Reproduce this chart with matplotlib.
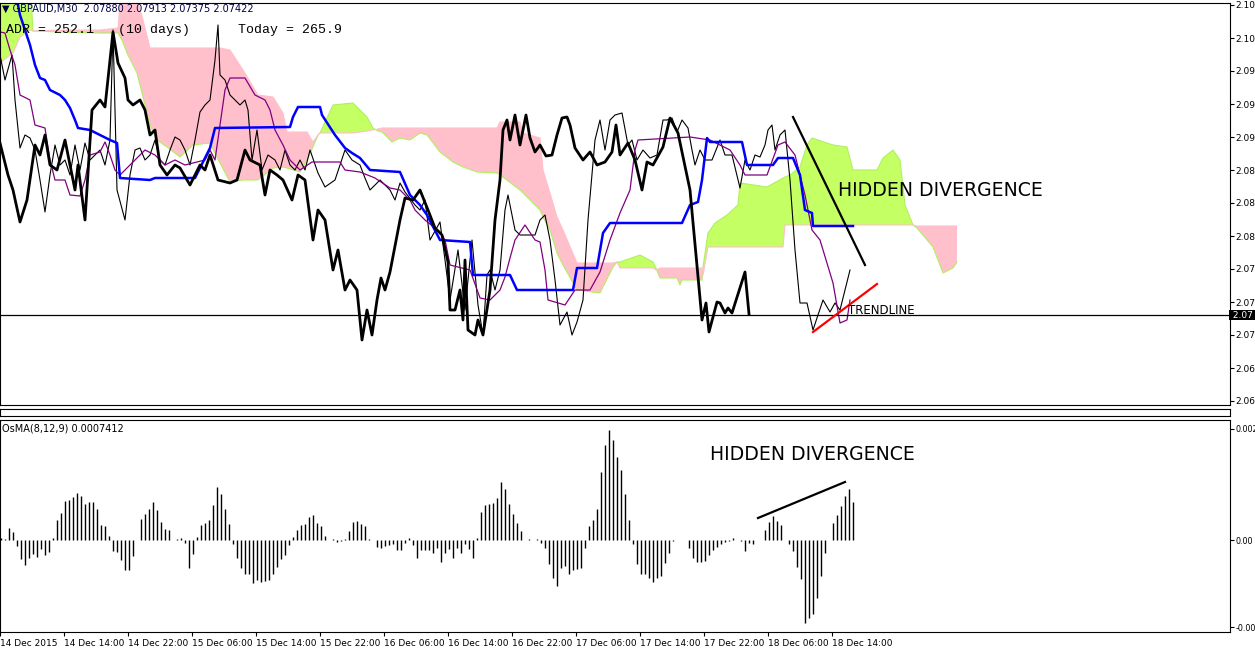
import numpy as np
import matplotlib
matplotlib.use("Agg")
import matplotlib.pyplot as plt

# ---------------- data ----------------
# time axis: bar index (M30 bars since 14 Dec 2015 00:00)
xtick_bars = [0, 16, 32, 48, 64, 80, 96, 112, 128, 144, 160, 176, 192, 208]
xtick_labels = ["14 Dec 2015", "14 Dec 14:00", "14 Dec 22:00", "15 Dec 06:00", "15 Dec 14:00",
                "15 Dec 22:00", "16 Dec 06:00", "16 Dec 14:00", "16 Dec 22:00", "17 Dec 06:00",
                "17 Dec 14:00", "17 Dec 22:00", "18 Dec 06:00", "18 Dec 14:00"]
price_ticks = [2.0996, 2.0963, 2.0930, 2.0897, 2.0864, 2.0831, 2.0798, 2.0765, 2.0732,
               2.0699, 2.0666, 2.0633, 2.0600]
price_tick_labels = ["2.10", "2.10", "2.09", "2.09", "2.09", "2.08", "2.08", "2.08", "2.07",
                     "2.07", "2.07", "2.06", "2.06"]
current_price = 2.0686

close_x = [0, 8, 13, 20, 27, 35, 40, 45, 50, 57, 65, 75, 78, 85, 92, 100, 105, 113, 118, 125, 128, 133,
           140, 145, 150, 155, 160, 167, 175, 180, 190, 200, 205, 210, 218, 230, 237, 245, 250, 260, 265,
           270, 277, 283, 292, 298, 305, 313, 318, 325, 333, 338, 345, 350, 357, 362, 367, 372, 377, 381,
           385, 390, 400, 405, 413, 420, 428, 435, 442, 448, 450, 455, 460, 463, 465, 468, 475, 478, 483,
           490, 495, 500, 503, 507, 510, 515, 520, 526, 530, 535, 540, 546, 552, 557, 562, 567, 570, 575,
           583, 590, 597, 605, 612, 616, 620, 628, 635, 642, 647, 653, 663, 670, 678, 690, 702, 706, 709,
           717, 720, 725, 728, 732, 745, 749]
close_y = [2.0858, 2.0826, 2.0811, 2.0779, 2.0801, 2.0856, 2.0846, 2.0866, 2.0836, 2.0831, 2.0861, 2.0811,
           2.0836, 2.0781, 2.0891, 2.0901, 2.0894, 2.0969, 2.0938, 2.0923, 2.0901, 2.0896, 2.0901, 2.0891,
           2.0866, 2.0871, 2.0836, 2.0826, 2.0836, 2.0833, 2.0816, 2.0836, 2.0831, 2.0846, 2.0821, 2.0818,
           2.0821, 2.0851, 2.0841, 2.0836, 2.0806, 2.0831, 2.0826, 2.0821, 2.0801, 2.0826, 2.0821, 2.0761,
           2.0791, 2.0781, 2.0731, 2.0751, 2.0711, 2.0721, 2.0711, 2.0661, 2.0691, 2.0666, 2.0701, 2.0723,
           2.0711, 2.0729, 2.0781, 2.0803, 2.0801, 2.0811, 2.0791, 2.0773, 2.0766, 2.0739, 2.0691, 2.0691,
           2.0711, 2.0681, 2.0741, 2.0671, 2.0666, 2.0681, 2.0666, 2.0711, 2.0781, 2.0821, 2.0871, 2.0881,
           2.0861, 2.0886, 2.0856, 2.0886, 2.0863, 2.0849, 2.0856, 2.0845, 2.0846, 2.0866, 2.0883, 2.0884,
           2.0876, 2.0853, 2.0841, 2.0849, 2.0836, 2.0839, 2.0849, 2.0876, 2.0846, 2.0858, 2.0841, 2.0811,
           2.0839, 2.0836, 2.0854, 2.0883, 2.0868, 2.0811, 2.0681, 2.0698, 2.0669, 2.0699, 2.0698, 2.0688,
           2.0693, 2.0688, 2.0729, 2.0687]

lag_x = [0, 5, 12, 15, 20, 25, 30, 35, 40, 45, 50, 55, 60, 65, 70, 75, 80, 85, 90, 100, 105, 110, 113, 117,
         125, 130, 135, 140, 145, 150, 155, 160, 165, 170, 175, 180, 185, 190, 195, 200, 205, 210, 215, 218,
         220, 225, 230, 235, 240, 245, 248, 252, 257, 262, 268, 275, 280, 285, 290, 295, 300, 305, 310, 318,
         325, 335, 345, 352, 360, 365, 370, 380, 390, 395, 400, 405, 415, 420, 425, 430, 440, 445, 450, 458,
         465, 472, 478, 483, 487, 490, 495, 500, 505, 508, 515, 520, 535, 540, 545, 550, 555, 560, 567, 572,
         577, 583, 588, 595, 600, 605, 610, 615, 622, 628, 632, 637, 643, 650, 657, 663, 667, 672, 677, 682,
         688, 692, 695, 700, 705, 712, 716, 720, 725, 732, 740, 745, 750, 755, 760, 765, 768, 772, 775, 780,
         785, 790, 795, 800, 807, 813, 823, 830, 835, 840, 850]
lag_y = [2.0946, 2.0921, 2.0946, 2.0901, 2.0853, 2.0866, 2.0863, 2.0851, 2.0821, 2.0789, 2.0826, 2.0856,
         2.0836, 2.0841, 2.0826, 2.0856, 2.0831, 2.0858, 2.0841, 2.0851, 2.0836, 2.0861, 2.0971, 2.0811,
         2.0781, 2.0826, 2.0851, 2.0853, 2.0841, 2.0846, 2.0861, 2.0841, 2.0836, 2.0851, 2.0864, 2.0861,
         2.0851, 2.0836, 2.0861, 2.0889, 2.0896, 2.0901, 2.0941, 2.0976, 2.0926, 2.0921, 2.0906, 2.0901,
         2.0896, 2.0901, 2.0891, 2.0841, 2.0871, 2.0831, 2.0846, 2.0841, 2.0831, 2.0851, 2.0836, 2.0831,
         2.0841, 2.0831, 2.0851, 2.0828, 2.0814, 2.0821, 2.0851, 2.0841, 2.0836, 2.0823, 2.0811, 2.0821,
         2.0811, 2.0801, 2.0818, 2.0809, 2.0796, 2.0791, 2.0801, 2.0761, 2.0779, 2.0741, 2.0701, 2.0751,
         2.0691, 2.0761, 2.0696, 2.0666, 2.0726, 2.0731, 2.0711, 2.0731, 2.0791, 2.0806, 2.0771, 2.0766,
         2.0766, 2.0781, 2.0786, 2.0761, 2.0721, 2.0676, 2.0689, 2.0666, 2.0679, 2.0701, 2.0781, 2.0861,
         2.0881, 2.0851, 2.0881, 2.0886, 2.0888, 2.0856, 2.0861, 2.0841, 2.0851, 2.0843, 2.0846, 2.0881,
         2.0881, 2.0883, 2.0869, 2.0881, 2.0873, 2.0851, 2.0836, 2.0851, 2.0841, 2.0841, 2.0851, 2.0861,
         2.0846, 2.0846, 2.0813, 2.0841, 2.0831, 2.0846, 2.0844, 2.0856, 2.0871, 2.0876, 2.0851, 2.0866,
         2.0871, 2.0821, 2.0751, 2.0698, 2.0698, 2.0671, 2.0701, 2.0689, 2.0698, 2.0691, 2.0731]

tenkan_x = [0, 5, 10, 15, 20, 30, 35, 45, 50, 55, 65, 70, 80, 85, 90, 100, 105, 110, 115, 120, 130, 145,
            155, 165, 175, 185, 205, 210, 215, 220, 225, 230, 245, 255, 265, 270, 275, 283, 290, 300, 312,
            340, 345, 360, 375, 390, 400, 410, 415, 425, 440, 445, 450, 470, 480, 490, 500, 505, 510, 515,
            525, 535, 540, 545, 548, 565, 575, 590, 600, 610, 620, 630, 635, 638, 690, 710, 720, 730, 740,
            745, 767, 778, 785, 795, 805, 812, 820, 833, 840, 847, 850]
tenkan_y = [2.0969, 2.0968, 2.0951, 2.0936, 2.0906, 2.0901, 2.0876, 2.0873, 2.0841, 2.0821, 2.0821, 2.0806,
            2.0805, 2.0821, 2.0846, 2.0849, 2.0859, 2.0846, 2.0831, 2.0826, 2.0836, 2.0851, 2.0846, 2.0836,
            2.0841, 2.0836, 2.0841, 2.0851, 2.0841, 2.0876, 2.0911, 2.0923, 2.0923, 2.0906, 2.0901, 2.0891,
            2.0871, 2.0856, 2.0841, 2.0831, 2.0839, 2.0839, 2.0831, 2.0829, 2.0823, 2.0813, 2.0811, 2.0801,
            2.0791, 2.0781, 2.0769, 2.0761, 2.0736, 2.0731, 2.0703, 2.0701, 2.0711, 2.0724, 2.0743, 2.0761,
            2.0776, 2.0761, 2.0759, 2.0731, 2.0701, 2.0696, 2.0711, 2.0711, 2.0729, 2.0761, 2.0788, 2.0811,
            2.0851, 2.0861, 2.0864, 2.0861, 2.0856, 2.0851, 2.0836, 2.0826, 2.0826, 2.0856, 2.0859, 2.0846,
            2.0806, 2.0771, 2.0761, 2.0718, 2.0678, 2.0681, 2.0701]

kijun_x = [17, 20, 30, 35, 40, 45, 50, 60, 65, 70, 75, 78, 90, 100, 110, 117, 120, 150, 155, 195, 205, 210,
           215, 290, 293, 298, 320, 322, 335, 345, 352, 360, 370, 400, 410, 420, 427, 440, 470, 473, 510,
           517, 573, 577, 597, 603, 610, 682, 690, 698, 702, 707, 710, 742, 747, 773, 778, 793, 800, 805,
           812, 813, 853]
kijun_y = [2.1001, 2.0986, 2.0956, 2.0936, 2.0923, 2.0921, 2.0911, 2.0906, 2.0901, 2.0893, 2.0881, 2.0873,
           2.0871, 2.0866, 2.0861, 2.0858, 2.0823, 2.0821, 2.0823, 2.0823, 2.0843, 2.0853, 2.0873, 2.0874,
           2.0884, 2.0894, 2.0894, 2.0886, 2.0866, 2.0853, 2.0848, 2.0843, 2.0831, 2.0829, 2.0806, 2.0796,
           2.0786, 2.0761, 2.0759, 2.0726, 2.0726, 2.0711, 2.0711, 2.0733, 2.0733, 2.0768, 2.0778, 2.0778,
           2.0796, 2.0799, 2.0821, 2.0863, 2.0859, 2.0859, 2.0836, 2.0836, 2.0843, 2.0843, 2.0826, 2.0791,
           2.0788, 2.0775, 2.0775]

cloud_x = [0, 13, 20, 30, 33, 60, 100, 118, 122, 127, 137, 143, 150, 157, 167, 180, 193, 210, 220, 230, 243,
           258, 273, 283, 287, 300, 307, 313, 318, 320, 333, 353, 367, 373, 378, 382, 392, 400, 410, 420, 427,
           440, 453, 463, 477, 497, 500, 520, 523, 540, 543, 550, 557, 563, 577, 600, 613, 617, 620, 640, 653,
           656, 660, 677, 680, 682, 702, 703, 708, 715, 727, 738, 740, 767, 783, 785, 790, 800, 807, 812, 833,
           847, 853, 877, 883, 893, 900, 905, 913, 917, 933, 943, 953, 957]
span_a = [2.1021, 2.1021, 2.1021, 2.1021, 2.0970, 2.0969, 2.0968, 2.0968, 2.0961, 2.0948, 2.0928, 2.0904,
          2.0876, 2.0861, 2.0854, 2.0844, 2.0856, 2.0858, 2.0838, 2.0819, 2.0821, 2.0821, 2.0833, 2.0834,
          2.0833, 2.0829, 2.0841, 2.0854, 2.0866, 2.0868, 2.0896, 2.0898, 2.0884, 2.0873, 2.0870, 2.0869,
          2.0859, 2.0863, 2.0861, 2.0868, 2.0866, 2.0849, 2.0839, 2.0834, 2.0829, 2.0828, 2.0826, 2.0811,
          2.0808, 2.0791, 2.0784, 2.0771, 2.0748, 2.0736, 2.0711, 2.0708, 2.0734, 2.0739, 2.0739, 2.0746,
          2.0739, 2.0733, 2.0723, 2.0723, 2.0716, 2.0721, 2.0721, 2.0734, 2.0768, 2.0778, 2.0786, 2.0796,
          2.0818, 2.0814, 2.0823, 2.0824, 2.0826, 2.0834, 2.0856, 2.0863, 2.0856, 2.0854, 2.0831, 2.0831,
          2.0843, 2.0851, 2.0841, 2.0796, 2.0776, 2.0773, 2.0754, 2.0728, 2.0733, 2.0739]
span_b = [2.0938, 2.0948, 2.0964, 2.0971, 2.0970, 2.0971, 2.0971, 2.0973, 2.1021, 2.1021, 2.1001, 2.0981,
          2.0953, 2.0953, 2.0953, 2.0953, 2.0953, 2.0953, 2.0953, 2.0951, 2.0931, 2.0906, 2.0904, 2.0888,
          2.0869, 2.0869, 2.0869, 2.0859, 2.0866, 2.0868, 2.0868, 2.0868, 2.0870, 2.0871, 2.0872, 2.0873,
          2.0873, 2.0873, 2.0873, 2.0873, 2.0873, 2.0873, 2.0873, 2.0873, 2.0873, 2.0873, 2.0879, 2.0879,
          2.0868, 2.0863, 2.0831, 2.0808, 2.0784, 2.0771, 2.0738, 2.0738, 2.0738, 2.0739, 2.0733, 2.0733,
          2.0733, 2.0731, 2.0733, 2.0733, 2.0733, 2.0733, 2.0733, 2.0726, 2.0754, 2.0754, 2.0754, 2.0754,
          2.0754, 2.0754, 2.0754, 2.0776, 2.0776, 2.0776, 2.0776, 2.0776, 2.0776, 2.0776, 2.0776, 2.0776,
          2.0776, 2.0776, 2.0776, 2.0776, 2.0776, 2.0775, 2.0775, 2.0775, 2.0775, 2.0775]

# OsMA histogram, in millionths (one value per bar)
osma_micro = [30, 12, 222, 150, -108, -348, -450, -318, -258, -300, -168, -270, -216, 42, 354, 480, 702, 714,
              780, 840, 792, 642, 684, 684, 552, 270, 246, 72, -198, -216, -366, -540, -540, -288, 6, 372,
              462, 552, 678, 534, 330, 204, 174, 0, 12, 30, -48, -498, -246, 54, 270, 300, 354, 630, 954,
              822, 552, 282, -78, -318, -510, -618, -606, -768, -726, -750, -738, -726, -606, -480, -348,
              -270, -96, 54, 174, 270, 294, 414, 450, 300, 252, 72, 0, 12, -30, -18, 12, 162, 324, 342, 294,
              252, 12, 0, -126, -138, -108, -90, -66, -180, -180, -48, 30, -90, -318, -186, -186, -180,
              -228, -150, -390, -228, -168, -318, -138, -228, -78, -168, -318, 42, 510, 624, 642, 660, 750,
              1050, 912, 654, 462, 300, 162, 0, 12, -6, 12, -54, -150, -426, -690, -828, -498, -468, -606,
              -546, -528, -498, -150, 252, 354, 552, 1230, 1710, 1974, 1794, 1494, 1254, 834, 354, -78,
              -438, -606, -606, -678, -750, -678, -648, -408, -228, -18, -6, -6, 0, -138, -318, -396, -390,
              -378, -276, -186, -126, -78, -30, -18, 42, -6, -18, -198, -48, -66, 0, 0, 174, 330, 432, 342,
              270, 0, -78, -198, -486, -708, -1488, -1398, -1338, -1050, -648, -228, -6, 300, 450, 612,
              792, 912, 690]

# drawn annotation lines (bar, value)
div_line_main = ([198.25, 216.25], [2.0884, 2.0736])
trend_line = ([203.25, 219.25], [2.0669, 2.0717])
div_line_osma = ([189.5, 211.25], [396e-6, 1044e-6])

# ---------------- plotting ----------------
W, H = 1255, 653
fig = plt.figure(figsize=(W / 100, H / 100), dpi=100)
fig.patch.set_facecolor("white")

def fpos(x0, y0, x1, y1):
    return [x0 / W, 1 - y1 / H, (x1 - x0) / W, (y1 - y0) / H]

XMAX = 1230 / 4
ax = fig.add_axes(fpos(0, 3, 1230, 405))
ax2 = fig.add_axes(fpos(0, 420, 1230, 632))
sep = fig.add_axes(fpos(0, 409, 1230, 416))
sep.set_xticks([]); sep.set_yticks([])

GREEN = "#c4ff64"
PINK = "#ffc0cb"
to_bar = lambda v: np.asarray(v) / 4.0

cx = to_bar(cloud_x)
a = np.array(span_a); b = np.array(span_b)
ax.fill_between(cx, a, b, where=a >= b, color=GREEN, interpolate=True, lw=0)
ax.fill_between(cx, a, b, where=a <= b, color=PINK, interpolate=True, lw=0)
ax.plot(cx, a, color="#b0f060", lw=0.8)
ax.plot(cx, b, color=PINK, lw=0.8)

ax.plot(to_bar(lag_x), lag_y, color="black", lw=0.8)
ax.plot(to_bar(tenkan_x), tenkan_y, color="purple", lw=0.9)
ax.plot(to_bar(kijun_x), kijun_y, color="#0000ff", lw=1.8)
ax.plot(to_bar(close_x), close_y, color="black", lw=2.0)

ax.axhline(current_price, color="black", lw=0.9)
ax.plot(*div_line_main, color="black", lw=1.6)
ax.plot(*trend_line, color="red", lw=1.6)
ax.text(212.0, 2.0691, "TRENDLINE", fontsize=8.5, va="center", ha="left")
ax.text(209.5, 2.0811, "HIDDEN DIVERGENCE", fontsize=13.6, va="center", ha="left")

ax.set_xlim(0, XMAX)
ax.set_ylim(2.0596, 2.0998)
ax.yaxis.tick_right()
ax.set_yticks(price_ticks)
ax.set_yticklabels(price_tick_labels, fontsize=6.5)
ax.set_xticks([])
ax.tick_params(axis="y", length=3, pad=1)
ax.text(1.0, current_price, " 2.07 ", transform=ax.get_yaxis_transform(), fontsize=6.5,
        color="white", va="center", ha="left", bbox=dict(fc="black", ec="none", pad=0.5))

ax.text(0.002, 0.985, "\u25BC GBPAUD,M30  2.07880 2.07913 2.07375 2.07422", transform=ax.transAxes,
        fontsize=7, va="center", ha="left", color="#000040")
ax.text(0.005, 0.932, "ADR = 252.1   (10 days)      Today = 265.9", transform=ax.transAxes,
        fontsize=9.5, family="Liberation Mono", va="center", ha="left")

# OsMA
osma = np.array(osma_micro) * 1e-6
bx = np.arange(len(osma)) + 0.3
ax2.vlines(bx, 0, osma, color="black", lw=1.0)
ax2.plot(*div_line_osma, color="black", lw=1.6)
ax2.text(177.5, 1530e-6, "HIDDEN DIVERGENCE", fontsize=13.6, va="center", ha="left")
ax2.text(0.002, 0.985, "OsMA(8,12,9) 0.0007412", transform=ax2.transAxes, fontsize=7,
         va="top", ha="left")
ax2.set_xlim(0, XMAX)
ax2.set_ylim(-1656e-6, 2160e-6)
ax2.yaxis.tick_right()
ax2.set_yticks([0.002, 0.0, -0.00157])
ax2.set_yticklabels(["0.002", "0.00", "-0.00"], fontsize=5.8)
ax2.tick_params(axis="y", length=3, pad=1)
ax2.set_xticks(xtick_bars)
ax2.set_xticklabels(xtick_labels, fontsize=6.5, ha="left")
ax2.tick_params(axis="x", length=3, pad=2)

fig.savefig("out.png", dpi=100)
